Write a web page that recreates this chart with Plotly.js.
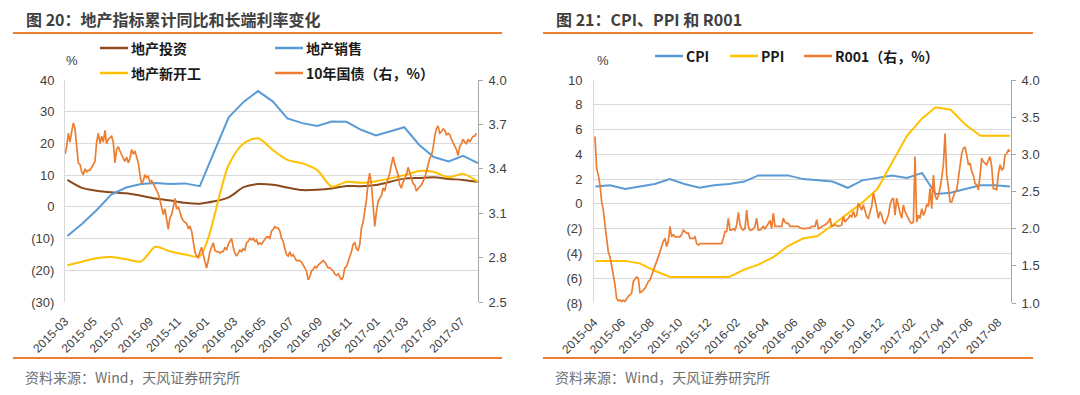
<!DOCTYPE html>
<html><head><meta charset="utf-8">
<script src="https://cdn.plot.ly/plotly-3.0.1.min.js"></script>
<style>html,body{margin:0;padding:0;background:#fff}#chart{width:1080px;height:395px}</style>
</head><body><div id="chart"></div>
<script>
// ================= DATA =================
// Figure 20 (left): monthly cumulative YoY (%), no January releases
const leftMonths = ['2015-03','2015-04','2015-05','2015-06','2015-07','2015-08','2015-09','2015-10','2015-11','2015-12',
  '2016-02','2016-03','2016-04','2016-05','2016-06','2016-07','2016-08','2016-09','2016-10','2016-11','2016-12',
  '2017-02','2017-03','2017-04','2017-05','2017-06','2017-07'];
const investYoY = [8.5,6.0,5.1,4.6,4.3,3.5,2.6,2.0,1.3,1.0, 3.0,6.2,7.2,7.0,6.1,5.3,5.4,5.8,6.6,6.5,6.9, 8.9,9.1,9.3,8.8,8.5,7.9];
const salesYoY = [-9.2,-5.4,-1.0,3.9,6.1,7.2,7.5,7.2,7.4,6.5, 28.2,33.1,36.5,33.2,27.9,26.4,25.5,26.9,26.8,24.3,22.5, 25.1,19.5,15.7,14.3,16.1,13.8];
const newStartsYoY = [-18.4,-17.3,-16.2,-15.8,-16.5,-17.2,-12.6,-14.1,-15.0,-15.5, 13.2,20.0,21.6,17.9,14.8,13.7,11.6,6.4,7.9,7.6,8.1, 10.0,11.3,11.0,9.3,10.4,7.9];
// 10Y government bond yield (%), sampled every ~3.46 days from start
const bond10yStart = '2015-03-26';
const bond10yStepDays = 3.46;
const bond10y = [3.50,3.55,3.64,3.58,3.65,3.71,3.67,3.56,3.44,3.43,
3.38,3.36,3.40,3.38,3.39,3.39,3.41,3.43,3.45,3.58,
3.64,3.57,3.62,3.58,3.66,3.57,3.60,3.61,3.62,3.58,
3.44,3.53,3.55,3.52,3.49,3.47,3.45,3.48,3.44,3.47,
3.53,3.50,3.52,3.48,3.44,3.36,3.30,3.32,3.36,3.34,
3.35,3.31,3.32,3.30,3.28,3.26,3.23,3.19,3.14,3.09,
3.13,3.04,2.99,3.07,3.09,3.14,3.20,3.13,3.14,3.11,
3.07,3.05,3.04,3.03,3.00,3.01,2.98,2.91,2.84,2.81,
2.80,2.84,2.87,2.82,2.77,2.73,2.78,2.84,2.87,2.90,
2.85,2.84,2.84,2.83,2.84,2.84,2.87,2.85,2.89,2.91,
2.93,2.87,2.83,2.81,2.83,2.85,2.84,2.86,2.85,2.90,
2.91,2.93,2.92,2.93,2.91,2.92,2.89,2.90,2.89,2.91,
2.92,2.94,2.94,2.93,2.98,2.99,3.01,3.00,3.00,2.98,
2.93,2.91,2.86,2.82,2.81,2.84,2.81,2.82,2.80,2.78,
2.78,2.78,2.77,2.75,2.73,2.71,2.65,2.67,2.71,2.72,
2.74,2.73,2.75,2.76,2.77,2.78,2.77,2.75,2.73,2.73,
2.72,2.71,2.69,2.68,2.69,2.67,2.65,2.67,2.73,2.74,
2.77,2.81,2.84,2.89,2.90,2.86,2.85,2.89,3.00,3.04,
3.11,3.19,3.31,3.37,3.29,3.14,3.01,3.11,3.18,3.20,
3.22,3.27,3.25,3.30,3.34,3.37,3.43,3.48,3.43,3.40,
3.36,3.29,3.27,3.31,3.34,3.36,3.41,3.38,3.34,3.30,
3.29,3.25,3.27,3.28,3.29,3.31,3.34,3.38,3.43,3.47,
3.49,3.54,3.62,3.67,3.69,3.64,3.65,3.67,3.66,3.63,
3.64,3.63,3.60,3.58,3.56,3.53,3.49,3.55,3.57,3.60,
3.58,3.57,3.60,3.58,3.60,3.62,3.62,3.64];
// x tick labels (text) and where the source chart prints them
const leftTickText = ['2015-03','2015-05','2015-07','2015-09','2015-11','2016-01','2016-03','2016-05','2016-07','2016-09','2016-11','2017-01','2017-03','2017-05','2017-07'];
const leftTickAt = ['2015-03-26','2015-05-24','2015-07-21','2015-09-18','2015-11-15','2016-01-13','2016-03-11','2016-05-09','2016-07-06','2016-09-03','2016-11-04','2017-01-01','2017-03-01','2017-04-28','2017-06-26'];
const leftYTicks = [40,30,20,10,0,-10,-20,-30];
const leftY2Ticks = [2.5,2.8,3.1,3.4,3.7,4.0];

// Figure 21 (right): CPI, PPI YoY (%) and R001 (%)
const rightMonths = ['2015-03','2015-04','2015-05','2015-06','2015-07','2015-08','2015-09','2015-10','2015-11','2015-12',
  '2016-01','2016-02','2016-03','2016-04','2016-05','2016-06','2016-07','2016-08','2016-09','2016-10','2016-11','2016-12',
  '2017-01','2017-02','2017-03','2017-04','2017-05','2017-06','2017-07'];
const cpi = [1.4,1.5,1.2,1.4,1.6,2.0,1.6,1.3,1.5,1.6, 1.8,2.3,2.3,2.3,2.0,1.9,1.8,1.3,1.9,2.1,2.3,2.1, 2.5,0.8,0.9,1.2,1.5,1.5,1.4];
const ppi = [-4.6,-4.6,-4.6,-4.8,-5.4,-5.9,-5.9,-5.9,-5.9,-5.9, -5.3,-4.9,-4.3,-3.4,-2.8,-2.6,-1.7,-0.8,0.1,1.2,3.3,5.5, 6.9,7.8,7.6,6.4,5.5,5.5,5.5];
const r001Start = '2015-03-30';
const r001StepDays = 3.43;
const r001 = [3.24,2.81,2.72,2.59,2.36,2.25,2.05,1.83,1.69,1.62,
1.47,1.38,1.24,1.06,1.03,1.04,1.02,1.04,1.02,1.06,
1.09,1.11,1.13,1.29,1.33,1.35,1.33,1.14,1.15,1.17,
1.20,1.24,1.29,1.31,1.38,1.44,1.49,1.56,1.62,1.69,
1.78,1.83,1.87,1.76,1.83,2.03,1.89,1.92,1.89,1.89,
1.89,1.89,1.92,1.98,1.96,1.94,1.94,1.87,1.87,1.87,
1.89,1.80,1.78,1.80,1.80,1.80,1.80,1.80,1.80,1.80,
1.80,1.80,1.80,1.80,1.80,1.80,1.80,1.87,1.96,1.96,
2.14,1.98,1.98,2.00,1.98,2.05,2.22,2.05,2.00,1.98,
2.00,2.25,2.03,1.98,1.98,2.00,2.03,2.14,1.98,1.98,
2.00,2.03,2.00,2.03,2.07,2.11,2.00,2.21,2.03,2.03,
2.03,2.03,2.03,2.14,2.09,2.07,2.07,2.03,2.03,2.03,
2.03,2.03,2.03,2.01,2.00,2.00,2.00,2.00,2.00,2.01,
2.03,2.03,2.03,2.12,2.00,2.01,2.03,2.04,2.05,2.07,
2.09,2.14,2.03,2.04,2.05,2.04,2.03,2.04,2.05,2.16,
2.09,2.12,2.14,2.18,2.16,2.23,2.16,2.18,2.34,2.30,
2.25,2.32,2.23,2.16,2.14,2.21,2.30,2.48,2.39,2.27,
2.14,2.23,2.18,2.09,2.07,2.12,2.18,2.32,2.39,2.41,
2.18,2.41,2.30,2.21,2.14,2.32,2.23,2.18,2.14,2.09,
2.07,2.09,2.97,2.09,2.18,2.14,2.27,2.18,2.23,2.32,
2.30,2.54,2.27,2.72,2.45,2.39,2.45,2.54,2.68,2.86,
3.28,2.72,2.56,2.36,2.36,2.43,2.50,2.52,2.68,2.88,
3.01,3.08,3.10,2.99,2.86,2.88,2.77,2.72,2.61,2.59,
2.52,2.72,2.95,2.90,2.88,2.86,2.92,2.97,2.83,2.54,
2.54,2.52,2.74,2.86,2.79,2.81,2.99,3.01,3.06,3.04];
const rightTickText = ['2015-04','2015-06','2015-08','2015-10','2015-12','2016-02','2016-04','2016-06','2016-08','2016-10','2016-12','2017-02','2017-04','2017-06','2017-08'];
const rightTickAt = ['2015-03-28','2015-05-24','2015-07-22','2015-09-19','2015-11-17','2016-01-15','2016-03-15','2016-05-13','2016-07-11','2016-09-08','2016-11-06','2017-01-10','2017-03-10','2017-05-08','2017-07-06'];
const rightYTicks = [10,8,6,4,2,0,-2,-4,-6,-8];
const rightY2Ticks = [1.0,1.5,2.0,2.5,3.0,3.5,4.0];

// ================= HELPERS =================
function monthEnd(m){const [y,mo]=m.split('-').map(Number);const d=new Date(Date.UTC(y,mo,0));return d.toISOString().slice(0,10);}
function seriesDates(start, step, n){const t0=Date.parse(start+'T00:00:00Z');const out=[];for(let i=0;i<n;i++){out.push(new Date(t0+i*step*86400000).toISOString().replace('T',' ').slice(0,19));}return out;}
function paren(v){return v<0?'('+Math.abs(v)+')':String(v);}
const W=1080,H=395;
const px=x=>x/W, py=y=>1-y/H;

const C_BROWN='#8B4A1C', C_BLUE='#5B9BD5', C_YELLOW='#FFC000', C_ORANGE='#ED7D31';
const tickFont={family:'Liberation Sans, Arial, sans-serif',size:13,color:'#404040'};
const xTickFont={family:'Liberation Sans, Arial, sans-serif',size:12,color:'#404040'};
const cjk='Noto Sans CJK SC, sans-serif';

const Lx=[px(65),px(478)], Ly=[py(302),py(80)];
const Rx=[px(594),px(1011)], Ry=[py(303),py(80)];
const leftXRange=['2015-03-26','2017-07-31'];
const rightXRange=['2015-03-28','2017-08-02'];
const Lzero=Ly[0]+(0-(-30))/70*(Ly[1]-Ly[0]);
const Rzero=Ry[0]+(0-(-8))/18*(Ry[1]-Ry[0]);

const leftX=leftMonths.map(monthEnd);
const rightX=rightMonths.map(monthEnd);
// zero-line tick marks every two months at the data months
const leftMarkTicks=leftX.filter((d,i)=>['03','05','07','09','11','01'].includes(leftMonths[i].slice(5)));
const rightMarkTicks=rightX.filter((d,i)=>i%2===0);

const traces=[
 {x:leftX,y:investYoY,xaxis:'x',yaxis:'y',type:'scatter',mode:'lines',line:{color:C_BROWN,width:2,shape:'spline',smoothing:0.8},showlegend:false,name:'地产投资'},
 {x:leftX,y:salesYoY,xaxis:'x',yaxis:'y',type:'scatter',mode:'lines',line:{color:C_BLUE,width:2},showlegend:false,name:'地产销售'},
 {x:leftX,y:newStartsYoY,xaxis:'x',yaxis:'y',type:'scatter',mode:'lines',line:{color:C_YELLOW,width:2,shape:'spline',smoothing:0.8},showlegend:false,name:'地产新开工'},
 {x:seriesDates(bond10yStart,bond10yStepDays,bond10y.length),y:bond10y,xaxis:'x',yaxis:'y2',type:'scatter',mode:'lines',line:{color:C_ORANGE,width:1.7},showlegend:false,name:'10年国债'},
 {x:rightX,y:cpi,xaxis:'x2',yaxis:'y3',type:'scatter',mode:'lines',line:{color:C_BLUE,width:2},showlegend:false,name:'CPI'},
 {x:rightX,y:ppi,xaxis:'x2',yaxis:'y3',type:'scatter',mode:'lines',line:{color:C_YELLOW,width:2},showlegend:false,name:'PPI'},
 {x:seriesDates(r001Start,r001StepDays,r001.length),y:r001,xaxis:'x2',yaxis:'y4',type:'scatter',mode:'lines',line:{color:C_ORANGE,width:1.7},showlegend:false,name:'R001'}
];

const gridC='#D9D9D9';
const layout={
 width:W,height:H,margin:{l:0,r:0,t:0,b:0},paper_bgcolor:'#fff',plot_bgcolor:'rgba(0,0,0,0)',showlegend:false,
 xaxis:{domain:Lx,anchor:'y',type:'date',range:leftXRange,tickvals:leftTickAt,ticktext:leftTickText,tickangle:-45,tickfont:xTickFont,ticklabelstandoff:9,showgrid:false,zeroline:false,showline:false,ticks:''},
 xaxis3:{overlaying:'x',anchor:'free',position:Lzero,type:'date',range:leftXRange,tickvals:leftMarkTicks,showticklabels:false,ticks:'outside',ticklen:4,tickcolor:gridC,showgrid:false,zeroline:false,showline:false},
 yaxis:{domain:Ly,anchor:'x',range:[-30,40],tickvals:leftYTicks,ticktext:leftYTicks.map(paren),tickfont:tickFont,ticklabelstandoff:7,showgrid:true,gridcolor:gridC,gridwidth:1,zeroline:false,showline:true,linecolor:gridC,ticks:''},
 yaxis2:{overlaying:'y',side:'right',anchor:'x',range:[2.5,4.0],tickvals:leftY2Ticks,ticktext:leftY2Ticks.map(v=>v.toFixed(1)),tickfont:tickFont,ticklabelstandoff:3,showgrid:false,zeroline:false,showline:true,linecolor:'#A6A6A6',ticks:'outside',ticklen:4,tickcolor:'#A6A6A6'},
 xaxis2:{domain:Rx,anchor:'y3',type:'date',range:rightXRange,tickvals:rightTickAt,ticktext:rightTickText,tickangle:-45,tickfont:xTickFont,ticklabelstandoff:9,showgrid:false,zeroline:false,showline:false,ticks:''},
 xaxis4:{overlaying:'x2',anchor:'free',position:Rzero,type:'date',range:rightXRange,tickvals:rightMarkTicks,showticklabels:false,ticks:'outside',ticklen:4,tickcolor:gridC,showgrid:false,zeroline:false,showline:false},
 yaxis3:{domain:Ry,anchor:'x2',range:[-8,10],tickvals:rightYTicks,ticktext:rightYTicks.map(paren),tickfont:tickFont,ticklabelstandoff:8,showgrid:true,gridcolor:gridC,gridwidth:1,zeroline:false,showline:true,linecolor:gridC,ticks:''},
 yaxis4:{overlaying:'y3',side:'right',anchor:'x2',range:[1.0,4.0],tickvals:rightY2Ticks,ticktext:rightY2Ticks.map(v=>v.toFixed(1)),tickfont:tickFont,ticklabelstandoff:3,showgrid:false,zeroline:false,showline:true,linecolor:'#A6A6A6',ticks:'outside',ticklen:4,tickcolor:'#A6A6A6'},
 shapes:[],annotations:[]
};

function hline(x0,x1,y,color,w){layout.shapes.push({type:'line',xref:'paper',yref:'paper',x0:px(x0),x1:px(x1),y0:py(y),y1:py(y),line:{color:color,width:w}});}
function text(x,y,t,font,anchor){layout.annotations.push({xref:'paper',yref:'paper',x:px(x),y:py(y),text:t,showarrow:false,xanchor:anchor||'left',yanchor:'middle',font:font});}

// separators
hline(13,502,33,C_ORANGE,2); hline(543,1033,33,C_ORANGE,2);
hline(13,502,358,C_ORANGE,2); hline(543,1033,358,C_ORANGE,2);
// titles
const titleFont={family:cjk,size:16,color:'#404040',weight:'bold'};
text(24,19,'图 20：地产指标累计同比和长端利率变化',titleFont);
text(554,19,'图 21：CPI、PPI 和 R001',titleFont);
// source
const srcFont={family:cjk,size:14,color:'#707070'};
text(23,377,'资料来源：Wind，天风证券研究所',srcFont);
text(553,377,'资料来源：Wind，天风证券研究所',srcFont);
// unit labels
const unitFont={family:'Liberation Sans, Arial, sans-serif',size:13,color:'#404040'};
text(64,60,'%',unitFont); text(595,60,'%',unitFont);
// legends
const legFont={family:cjk,size:14,color:'#1a1a1a',weight:'bold'};
const legItems=[
 [100,48,C_BROWN,'地产投资'],[275,48,C_BLUE,'地产销售'],
 [100,73,C_YELLOW,'地产新开工'],[275,73,C_ORANGE,'10年国债（右，%）'],
 [655,56,C_BLUE,'CPI'],[730,56,C_YELLOW,'PPI'],[804,56,C_ORANGE,'R001（右，%）']
];
legItems.forEach(([x,y,c,t])=>{hline(x,x+28,y,c,2.5);text(x+29,y,t,legFont);});

Plotly.newPlot('chart',traces,layout,{displayModeBar:false,staticPlot:true});
</script></body></html>
